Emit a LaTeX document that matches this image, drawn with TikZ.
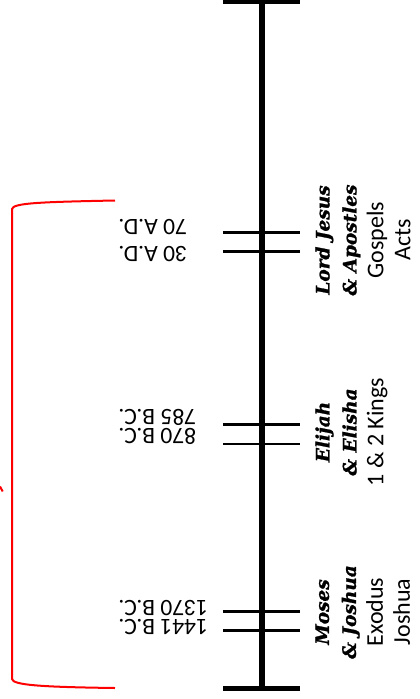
\documentclass[tikz,border=0pt]{standalone}
\usepackage{fontspec}
\setmainfont{Carlito}
\newfontfamily\headfont{DejaVu Serif}[BoldItalicFont = {DejaVu Serif Bold Italic},
  BoldItalicFeatures = {FakeBold = 1.2}]
\newcommand\eraname[1]{{\headfont\bfseries\itshape\fontsize{18.5}{27}\selectfont #1}}
\begin{document}
\begin{tikzpicture}[x = 1pt, y = -1pt, thick]
      \tikzstyle{every node} = [inner sep = 0pt];
      \tikzset{
        era/.style = {rotate = 90, anchor = north, align = center,
                      font = \fontsize{24}{27}\selectfont},
        date/.style = {rotate = 180, anchor = east, text height = 15pt,
                       text depth = 0pt, font = \fontsize{23.5}{28}\selectfont},
        tickline/.style = {line width = 2.5pt},
        capbar/.style = {line width = 5pt},
        brace/.style = {red, line width = 2pt}
      }
      \useasboundingbox (0,0) rectangle (420,699);
      % time line
      \coordinate (top) at (262,0);
      \coordinate (bot) at (262,688);
      \draw[line width = 5.5pt] (top) -- (bot);
      \draw[capbar] (223,1.5) -- (300,1.5);
      \draw[capbar] (223,688) -- (300,688);
      \foreach \y in {232.3,251.3,424.7,444,611.3,630.5}{
        \draw[tickline] (223,\y) -- (300,\y);
      }
      % dates
      \node(d70) [date] at (118,226.5) {70 A.D.};
      \node(d30) [date] at (118,254) {30 A.D.};
      \node(d785) [date] at (118,417) {785 B.C.};
      \node(d870) [date] at (118,435.5) {870 B.C.};
      \node(d1370) [date] at (118,608) {1370 B.C.};
      \node(d1441) [date] at (118,626.5) {1441 B.C.};
      % eras
      \node(jesus) [era] at (315,240)
        {\eraname{Lord Jesus}\\ \eraname{\& Apostles}\\ Gospels\\ Acts};
      \node(elijah) [era] at (315,432)
        {\eraname{Elijah}\\ \eraname{\& Elisha}\\ 1 \& 2 Kings};
      \node(moses) [era] at (315,612)
        {\eraname{Moses}\\ \eraname{\& Joshua}\\ Exodus\\ Joshua};
      % bracket
      \coordinate (bt) at (115,200.5);
      \coordinate (bb) at (115,688);
      \draw[brace] (bt) .. controls (40,202) and (13,203) .. (12,209)
        -- (12,679) .. controls (13,685) and (40,687) .. (bb);
      \draw[brace] (0,486.5) -- (2.7,491.5);
\end{tikzpicture}
\end{document}
